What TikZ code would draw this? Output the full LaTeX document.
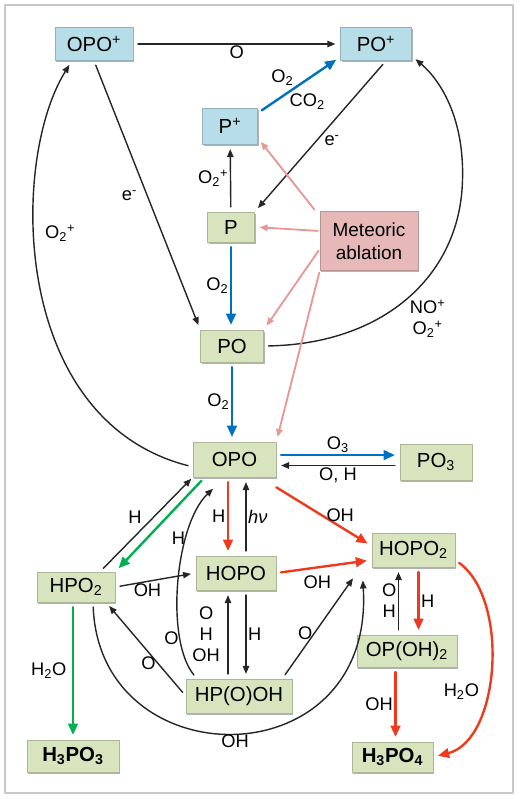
\documentclass[tikz,border=0pt]{standalone}
\usepackage{fontspec}
\setmainfont{Liberation Sans}
\usetikzlibrary{arrows.meta,shadows}
\definecolor{boxgreen}{HTML}{D7E4BD}
\definecolor{boxblue}{HTML}{B7DEE8}
\definecolor{boxpink}{HTML}{E6B9B8}
\definecolor{arrblue}{HTML}{0070C0}
\definecolor{arrred}{HTML}{F03A1E}
\definecolor{arrgreen}{HTML}{00B050}
\definecolor{arrpink}{HTML}{E89696}
\definecolor{framegray}{HTML}{C8C8C8}
\begin{document}
\begin{tikzpicture}[x = 0.25mm, y = -0.25mm, line join = round, line cap = round,
  >={Triangle[length=2mm,width=1.6mm]},
  box/.style={draw=#1!80!black, fill=#1, line width=0.4pt, inner sep=1pt,
    font=\fontsize{14.5}{17}\selectfont,
    drop shadow={shadow xshift=0.3mm, shadow yshift=-0.4mm, opacity=.3, fill=black}},
  lab/.style={inner sep=1pt, font=\fontsize{13}{15}\selectfont},
  arr/.style={->, draw=black!85, line width=1pt, shorten >=1.2mm, shorten <=1.2mm},
  heavy/.style={line width=1.7pt, -{Triangle[length=2.8mm,width=2.4mm]}},
  bluearr/.style={arr, heavy, draw=arrblue},
  redarr/.style={arr, heavy, draw=arrred},
  greenarr/.style={arr, heavy, draw=arrgreen},
  pinkarr/.style={arr, draw=arrpink, line width=1.3pt, shorten <=0.5mm}]
  \useasboundingbox (0,0) rectangle (520,799);
  \draw[framegray, line width=0.8pt] (5,5) rectangle (513,793);
  % cac hop
  \node[box=boxblue, minimum width=19.5mm, minimum height=8.25mm] (OPOp) at (94,44) {OPO\textsuperscript{+}};
  \node[box=boxblue, minimum width=17.75mm, minimum height=8.25mm] (POp) at (376,44) {PO\textsuperscript{+}};
  \node[box=boxblue, minimum width=13.75mm, minimum height=9mm] (Pp) at (230,126) {P\textsuperscript{+}};
  \node[box=boxgreen, minimum width=11.75mm, minimum height=7.5mm] (P) at (231,227) {P};
  \node[box=boxpink, minimum width=24.5mm, minimum height=14.75mm, align=center,
    font=\fontsize{13.5}{16}\selectfont] (MA) at (369,241) {Meteoric\\ablation};
  \node[box=boxgreen, minimum width=15.75mm, minimum height=8mm] (PO) at (232,346) {PO};
  \node[box=boxgreen, minimum width=20.75mm, minimum height=8.75mm] (OPO) at (234.5,459.5) {OPO};
  \node[box=boxgreen, minimum width=18mm, minimum height=9mm] (PO3) at (436,462) {PO\textsubscript{3}};
  \node[box=boxgreen, minimum width=20.75mm, minimum height=8.5mm] (HOPO2) at (413.5,550) {HOPO\textsubscript{2}};
  \node[box=boxgreen, minimum width=19.5mm, minimum height=7.5mm] (HPO2) at (76,587) {HPO\textsubscript{2}};
  \node[box=boxgreen, minimum width=20mm, minimum height=8.5mm] (HOPO) at (236,573) {HOPO};
  \node[box=boxgreen, minimum width=26.5mm, minimum height=8.5mm] (HPOOH) at (239,696) {HP(O)OH};
  \node[box=boxgreen, minimum width=25mm, minimum height=8mm] (OPOH2) at (407,651) {OP(OH)\textsubscript{2}};
  \node[box=boxgreen, minimum width=23mm, minimum height=8mm] (H3PO3) at (73,756) {\bfseries H\textsubscript{3}PO\textsubscript{3}};
  \node[box=boxgreen, minimum width=20.25mm, minimum height=7.5mm] (H3PO4) at (392.5,757) {\bfseries H\textsubscript{3}PO\textsubscript{4}};
  % phan tren
  \draw[arr] (OPOp) -- (POp) node[lab, midway, below] {O};
  \draw[bluearr] (Pp.25) -- (POp.200) node[lab, pos=.3, above=2mm] {O\textsubscript{2}} node[lab, pos=.6, below=3mm] {CO\textsubscript{2}};
  \draw[arr] ([xshift=2.5mm]POp.south) -- (P.north east) node[lab, pos=.53, right=1.5mm] {e\textsuperscript{-}};
  \draw[arr] (P) -- (Pp) node[lab, midway, left] {O\textsubscript{2}\textsuperscript{+}};
  \draw[arr] (OPOp.south) -- (PO.north west) node[lab, midway, left=2mm] {e\textsuperscript{-}};
  \draw[arr] (OPO.190) .. controls (10,420) and (10,160) .. ([xshift=-5.5mm]OPOp.south) node[lab, pos=.6, right=2mm] {O\textsubscript{2}\textsuperscript{+}};
  \draw[arr] (PO.east) .. controls (380,344) and (455,280) .. (462,190) node[lab, pos=.52, anchor=north west, align=center] {NO\textsuperscript{+}\\O\textsubscript{2}\textsuperscript{+}}
    .. controls (467,120) and (440,80) .. ([yshift=-3mm]POp.east);
  % meteoric ablation
  \draw[pinkarr] ([xshift=-1mm]MA.north west) -- ([yshift=-3mm]Pp.east);
  \draw[pinkarr] ([yshift=2.5mm]MA.west) -- (P.east);
  \draw[pinkarr] ([yshift=-2mm]MA.west) -- (PO.north east);
  \draw[pinkarr] (MA.south west) -- (OPO.north east);
  % oxi hoa
  \draw[bluearr] (P.south) -- (P.south |- PO.north) node[lab, midway, left] {O\textsubscript{2}};
  \draw[bluearr] (PO.south) -- (PO.south |- OPO.north) node[lab, midway, left] {O\textsubscript{2}};
  \draw[bluearr] ([yshift=1.1mm]OPO.east) -- ([yshift=1.1mm]OPO.east -| PO3.west) node[lab, midway, above] {O\textsubscript{3}};
  \draw[arr] ([yshift=-1.5mm]OPO.east -| PO3.west) -- ([yshift=-1.5mm]OPO.east) node[lab, midway, below] {O, H};
  % phan duoi
  \draw[redarr] ([xshift=-2mm]HOPO.north |- OPO.south) -- ([xshift=-2mm]HOPO.north) node[lab, midway, left] {H};
  \draw[arr] ([xshift=2.5mm]HOPO.north) -- ([xshift=2.5mm]HOPO.north |- OPO.south) node[lab, midway, right] {\textit{hν}};
  \draw[redarr, shorten <=0pt] ([yshift=-2.5mm]OPO.south east) -- ([yshift=1mm]HOPO2.west) node[lab, pos=.67, above=.5mm] {OH};
  \draw[greenarr] ([xshift=3mm]OPO.south west) -- (HPO2.north east);
  \draw[arr, shorten >=0.5mm] ([xshift=6mm]HPO2.north) -- (OPO.south west) node[lab, pos=.58, left=2.5mm] {H};
  \draw[arr, shorten >=0.5mm] ([xshift=-10.5mm]HPOOH.north) .. controls (165,640) and (175,525) .. ([shift={(-5mm,-2.5mm)}]OPO.south)
    node[lab, pos=.25, left] {O} node[lab, pos=.7, left] {H};
  \draw[arr] (HPO2.east) -- (HOPO.west) node[lab, pos=.4, below] {OH};
  \draw[redarr] (HOPO.east) -- ([yshift=-2.5mm]HOPO2.west) node[lab, pos=.43, below=1.5mm] {OH};
  \draw[arr] ([xshift=-2mm]HOPO.south |- HPOOH.north) -- ([xshift=-2mm]HOPO.south) node[lab, midway, left=1.5mm, align=center] {O\\H\\OH};
  \draw[arr] ([xshift=2.5mm]HOPO.south) -- ([xshift=2.5mm]HOPO.south |- HPOOH.north) node[lab, midway, right] {H};
  \draw[arr] (HPOOH.west) -- ([xshift=7.5mm]HPO2.south) node[lab, pos=.35, left] {O};
  \draw[arr, shorten >=0.3mm] ([xshift=-2.5mm]HPOOH.north east) -- ([shift={(-4.5mm,-2.5mm)}]HOPO2.south west) node[lab, pos=.45, left] {O};
  \draw[arr, shorten >=0.3mm] ([xshift=4.25mm]HPO2.south) .. controls (100,780) and (375,780) .. ([shift={(-2.25mm,-3mm)}]HOPO2.south west) node[lab, pos=.5, below] {OH};
  \draw[redarr] ([xshift=1.25mm]HOPO2.south) -- ([xshift=1.25mm]HOPO2.south |- OPOH2.north) node[lab, midway, right] {H};
  \draw[arr] ([xshift=-3.75mm]HOPO2.south |- OPOH2.north) -- ([xshift=-3.75mm]HOPO2.south) node[lab, midway, left, align=center] {O\\H};
  \draw[redarr] ([xshift=0.75mm]H3PO4.north |- OPOH2.south) -- ([xshift=0.75mm]H3PO4.north) node[lab, midway, left] {OH};
  \draw[redarr] ([yshift=-2.5mm]HOPO2.east) .. controls (510,600) and (500,740) .. (H3PO4.east) node[lab, pos=.6, left=1mm] {H\textsubscript{2}O};
  \draw[greenarr] (HPO2.south -| H3PO3.north) -- (H3PO3.north) node[lab, midway, left=1mm] {H\textsubscript{2}O};
\end{tikzpicture}
\end{document}
